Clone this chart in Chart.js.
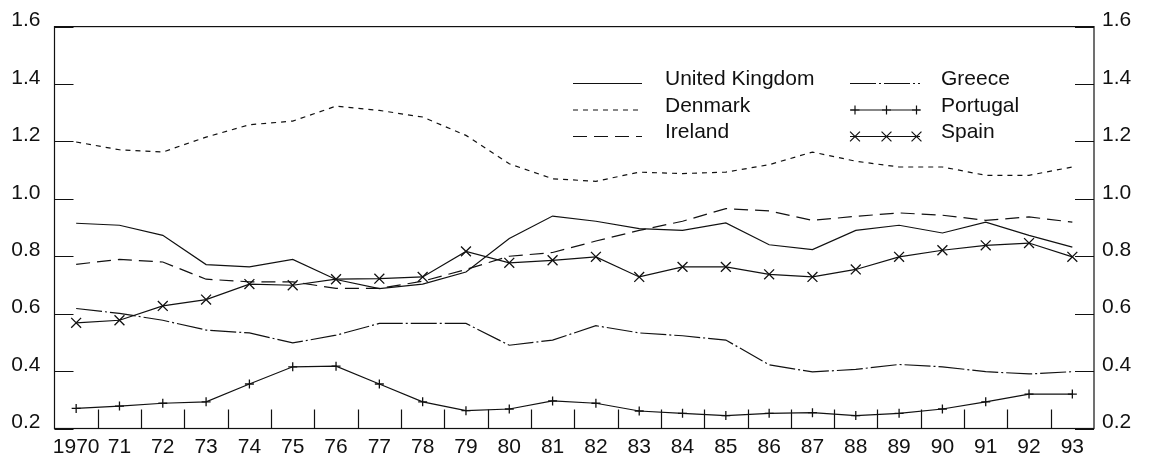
<!DOCTYPE html>
<html>
<head>
<meta charset="utf-8">
<script src="https://cdn.jsdelivr.net/npm/chart.js@4"></script>
<style>
  html, body { margin: 0; padding: 0; background: #fff; }
  #wrap { width: 1149px; height: 461px; }
</style>
</head>
<body>
<div id="wrap"><canvas id="c" width="1149" height="461"></canvas></div>
<script>
// Years on the horizontal axis
const years = ['1970', '71', '72', '73', '74', '75', '76', '77', '78', '79', '80', '81',
               '82', '83', '84', '85', '86', '87', '88', '89', '90', '91', '92', '93'];

// Series values, one per year
const unitedKingdom = [0.915, 0.908, 0.873, 0.771, 0.763, 0.789, 0.719, 0.687, 0.703, 0.745, 0.862, 0.940,
                       0.922, 0.896, 0.890, 0.916, 0.840, 0.823, 0.890, 0.908, 0.881, 0.919, 0.873, 0.832];
const denmark = [1.198, 1.171, 1.163, 1.215, 1.258, 1.271, 1.323, 1.308, 1.285, 1.221, 1.122, 1.070,
                 1.061, 1.093, 1.088, 1.093, 1.119, 1.163, 1.131, 1.111, 1.111, 1.082, 1.082, 1.111];
const ireland = [0.772, 0.789, 0.780, 0.720, 0.711, 0.711, 0.688, 0.688, 0.713, 0.754, 0.800, 0.813,
                 0.853, 0.890, 0.922, 0.966, 0.958, 0.925, 0.939, 0.951, 0.943, 0.925, 0.937, 0.919];
const greece = [0.618, 0.601, 0.577, 0.543, 0.533, 0.498, 0.525, 0.566, 0.566, 0.566, 0.490, 0.508,
                0.558, 0.533, 0.523, 0.508, 0.422, 0.397, 0.406, 0.423, 0.415, 0.398, 0.390, 0.398];
const portugal = [0.270, 0.278, 0.288, 0.293, 0.355, 0.415, 0.417, 0.355, 0.293, 0.262, 0.268, 0.296,
                  0.288, 0.261, 0.253, 0.245, 0.253, 0.255, 0.245, 0.253, 0.268, 0.293, 0.320, 0.320];
const spain = [0.568, 0.577, 0.627, 0.649, 0.703, 0.699, 0.720, 0.722, 0.728, 0.817, 0.777, 0.786,
               0.798, 0.728, 0.763, 0.763, 0.737, 0.728, 0.754, 0.798, 0.821, 0.838, 0.846, 0.798];

// Value ticks shown on both vertical axes
const yTicks = [0.2, 0.4, 0.6, 0.8, 1.0, 1.2, 1.4, 1.6];
const yTickLabels = ['0.2', '0.4', '0.6', '0.8', '1.0', '1.2', '1.4', '1.6'];

const INK = '#111';
const FONT = "21px 'Liberation Sans', Arial, sans-serif";

function series(label, data, dash, pointStyle, radius) {
  return {
    label, data,
    borderColor: INK,
    borderWidth: 1.2,
    borderDash: dash,
    tension: 0,
    fill: false,
    pointStyle: pointStyle || 'circle',
    pointRadius: pointStyle ? radius : 0,
    pointHoverRadius: pointStyle ? radius : 0,
    pointBorderColor: INK,
    pointBorderWidth: 1.3,
    pointBackgroundColor: INK
  };
}

const datasets = [
  series('United Kingdom', unitedKingdom, []),
  series('Denmark', denmark, [5, 5]),
  series('Ireland', ireland, [14, 7]),
  series('Greece', greece, [26, 3, 2, 3]),
  series('Portugal', portugal, [], 'cross', 4.5),
  series('Spain', spain, [], 'crossRot', 7)
];

// Frame, inward tick marks and a two-column key drawn on the canvas
const framePlugin = {
  id: 'frame',
  afterDraw(chart) {
    const ctx = chart.ctx;
    const a = chart.chartArea;
    const xs = chart.scales.x;
    const ys = chart.scales.y;
    const TL = 19;
    ctx.save();
    ctx.strokeStyle = INK;
    ctx.lineWidth = 1.2;
    ctx.setLineDash([]);
    ctx.strokeRect(a.left, a.top, a.right - a.left, a.bottom - a.top);

    ctx.beginPath();
    yTicks.forEach(v => {
      const y = Math.round(ys.getPixelForValue(v)) + 0.5;
      ctx.moveTo(a.left, y); ctx.lineTo(a.left + TL, y);
      ctx.moveTo(a.right, y); ctx.lineTo(a.right - TL, y);
    });
    for (let i = 1; i < years.length; i++) {
      const x = Math.round((xs.getPixelForValue(i - 1) + xs.getPixelForValue(i)) / 2) + 0.5;
      ctx.moveTo(x, a.bottom); ctx.lineTo(x, a.bottom - TL);
    }
    ctx.stroke();

    // key
    const cols = [
      { x0: 573, x1: 642, tx: 665, items: [0, 1, 2] },
      { x0: 850, x1: 920, tx: 941, items: [3, 4, 5] }
    ];
    const baselines = [85, 111.5, 138];
    ctx.font = FONT;
    ctx.fillStyle = INK;
    ctx.textBaseline = 'alphabetic';
    ctx.textAlign = 'left';
    cols.forEach(col => {
      col.items.forEach((di, r) => {
        const ds = chart.data.datasets[di];
        const yl = baselines[r] - 1.5;
        ctx.save();
        ctx.strokeStyle = INK;
        ctx.lineWidth = 1.2;
        ctx.setLineDash(ds.borderDash || []);
        ctx.beginPath();
        ctx.moveTo(col.x0, yl); ctx.lineTo(col.x1, yl);
        ctx.stroke();
        ctx.restore();
        if (ds.pointRadius > 0) {
          [col.x0 + 5, col.x0 + 36.5, col.x1 - 3.5].forEach(px => {
            Chart.helpers.drawPoint(ctx, {
              pointStyle: ds.pointStyle, radius: ds.pointRadius, rotation: 0,
              borderWidth: ds.pointBorderWidth
            }, px, yl);
          });
        }
        ctx.fillText(ds.label, col.tx, baselines[r]);
      });
    });
    ctx.restore();
  }
};

const tickFont = { family: "'Liberation Sans', Arial, sans-serif", size: 21 };
const fmt = v => {
  const i = yTicks.findIndex(t => Math.abs(t - v) < 1e-6);
  return i >= 0 ? yTickLabels[i] : '';
};

new Chart(document.getElementById('c'), {
  type: 'line',
  data: { labels: years, datasets },
  plugins: [framePlugin],
  options: {
    responsive: false,
    devicePixelRatio: 1,
    animation: false,
    layout: { padding: { top: 23.5, left: 0, right: 0, bottom: 0 } },
    plugins: { legend: { display: false }, tooltip: { enabled: false } },
    scales: {
      x: {
        offset: true,
        grid: { display: false, offset: true, drawTicks: false },
        border: { display: false },
        ticks: { color: INK, font: tickFont, padding: 6, maxRotation: 0, autoSkip: false },
        afterFit: s => { s.height = 32.5; }
      },
      y: {
        position: 'left',
        min: 0.2, max: 1.6,
        afterBuildTicks: s => { s.ticks = yTicks.map(v => ({ value: v })); },
        grid: { display: false, drawTicks: false },
        border: { display: false },
        ticks: { color: INK, font: tickFont, padding: 14, labelOffset: -6, callback: fmt },
        afterFit: s => { s.width = 54.5; }
      },
      y2: {
        position: 'right',
        min: 0.2, max: 1.6,
        afterBuildTicks: s => { s.ticks = yTicks.map(v => ({ value: v })); },
        grid: { display: false, drawTicks: false },
        border: { display: false },
        ticks: { color: INK, font: tickFont, padding: 8, labelOffset: -6, callback: fmt },
        afterFit: s => { s.width = 55; }
      }
    }
  }
});
</script>
</body>
</html>
